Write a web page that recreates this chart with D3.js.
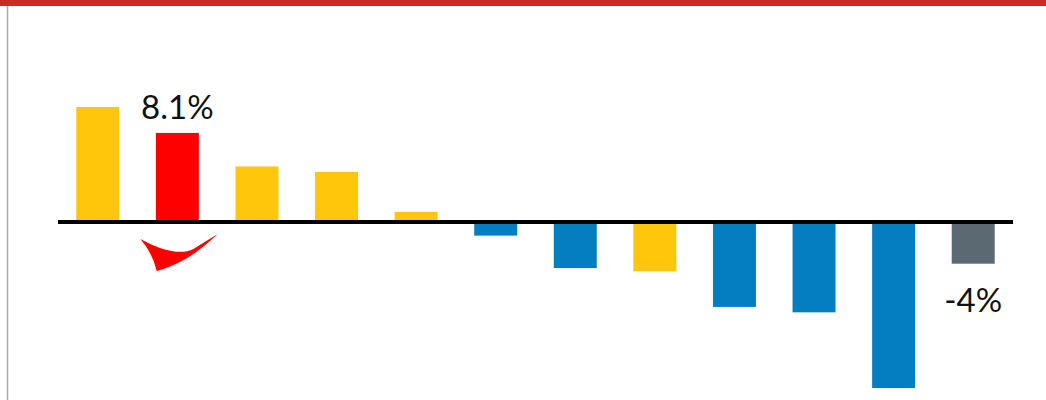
<!DOCTYPE html>
<html>
<head>
<meta charset="utf-8">
<script src="https://cdn.jsdelivr.net/npm/d3@7"></script>
<style>
  html, body { margin: 0; padding: 0; background: #fff; }
  svg { display: block; }
</style>
</head>
<body>
<svg id="chart" width="1046" height="400"></svg>
<script>
const categories = ["A","B","C","D","E","F","G","H","I","J","K","L"];
const values = [10.5, 8.1, 5.0, 4.5, 0.8, -1.4, -4.4, -4.7, -8.0, -8.5, -15.5, -4.0];
const barColors = ["#FFC60B","#FF0000","#FFC60B","#FFC60B","#FFC60B","#057EC1","#057EC1","#FFC60B","#057EC1","#057EC1","#057EC1","#5B6A72"];
const labels = [null, "8.1%", null, null, null, null, null, null, null, null, null, "-4%"];

const svg = d3.select("#chart");
const W = 1046, H = 400;

// frame
svg.append("rect").attr("x", 0).attr("y", 0).attr("width", W).attr("height", 6).attr("fill", "#CC2929");
svg.append("line").attr("x1", 7.5).attr("x2", 7.5).attr("y1", 6).attr("y2", H)
  .attr("stroke", "#A9ADB0").attr("stroke-width", 1.5);

const x = d3.scaleBand().domain(categories).range([58, 1013]).paddingInner(0.46).paddingOuter(0.23);
const y = d3.scaleLinear().domain([-15.5, 10.5]).range([388, 107]);

svg.append("g").selectAll("rect").data(values).join("rect")
  .attr("x", (d, i) => x(categories[i]))
  .attr("width", x.bandwidth())
  .attr("y", d => y(Math.max(0, d)))
  .attr("height", d => Math.abs(y(d) - y(0)))
  .attr("fill", (d, i) => barColors[i]);

// baseline
svg.append("line").attr("x1", 58).attr("x2", 1013).attr("y1", y(0) + 1.5).attr("y2", y(0) + 1.5)
  .attr("stroke", "#000").attr("stroke-width", 4);

// value labels
svg.append("g").selectAll("text").data(values.map((v, i) => ({v, i, t: labels[i]})).filter(d => d.t))
  .join("text")
  .attr("x", d => x(categories[d.i]) + x.bandwidth() / 2)
  .attr("y", d => d.v >= 0 ? y(d.v) - 13.5 : y(d.v) + 48)
  .attr("text-anchor", "middle")
  .attr("font-family", "Lato, 'Open Sans', sans-serif")
  .attr("font-size", 33)
  .attr("fill", "#111")
  .text(d => d.t);

// red swoosh logo under highlighted bar
const hi = x("B") + x.bandwidth() / 2;
svg.append("path")
  .attr("transform", `translate(${hi},${y(0)})`)
  .attr("d", "M-37,18.5 Q-2,37.5 16,28.5 Q28,21 40.3,13.5 Q23,30 8,38.5 Q-7,47 -20.7,50.5 Q-25,32 -37,18.5 Z")
  .attr("fill", "#FF0000");
</script>
</body>
</html>
